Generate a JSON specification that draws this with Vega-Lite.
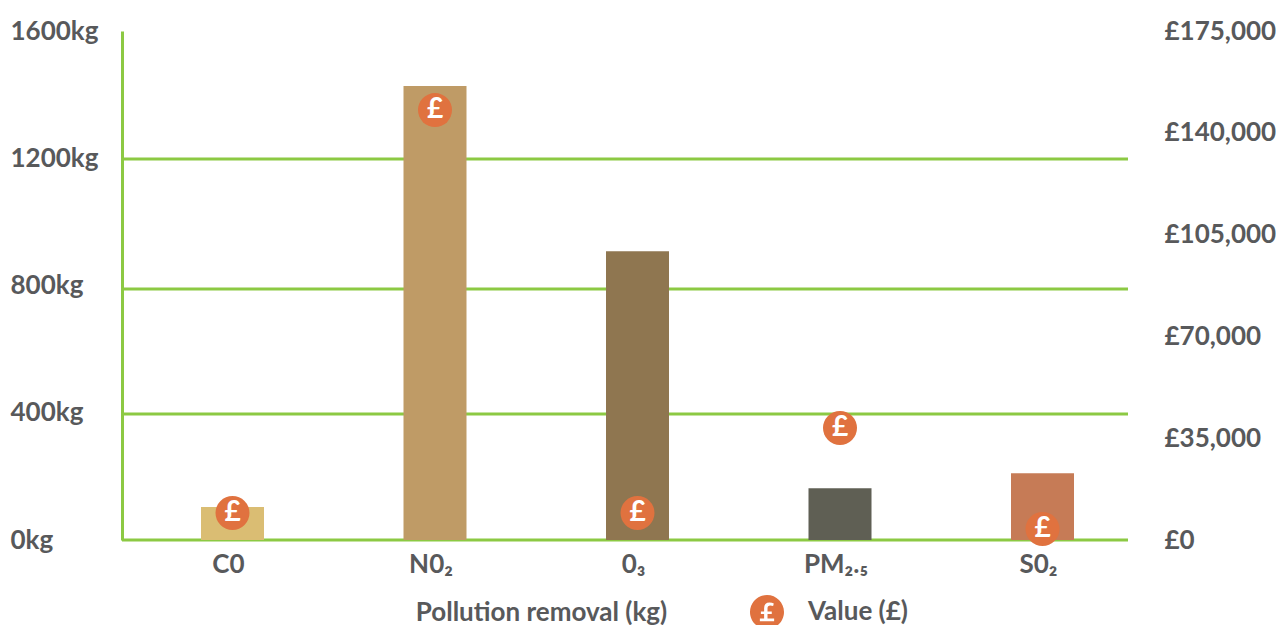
{
"$schema":"https://vega.github.io/schema/vega-lite/v6.json",
"width":1006,"height":509,
"autosize":{"type":"none"},
"padding":{"left":122,"top":31,"right":148,"bottom":85},
"background":"white",
"config":{"view":{"stroke":null},"font":"Lato"},
"datasets":{
"pollution":[
{"pollutant":"C0","kg":104,"value":9300,"color":"#dabd73"},
{"pollutant":"N0₂","kg":1427,"value":147800,"color":"#bf9b66"},
{"pollutant":"0₃","kg":908,"value":9300,"color":"#8f7650"},
{"pollutant":"PM₂.₅","kg":163,"value":38500,"color":"#5f5f54"},
{"pollutant":"S0₂","kg":210,"value":3800,"color":"#c67b56"}],
"gridlines":[{"kg":0},{"kg":396},{"kg":789},{"kg":1198}]
},
"layer":[
{"layer":[
{"data":{"name":"gridlines"},"mark":{"type":"rule","color":"#8cc943","strokeWidth":3},
 "encoding":{"y":{"field":"kg","type":"quantitative","scale":{"domain":[0,1600]}}}},
{"data":{"name":"pollution"},"mark":{"type":"bar","width":63},
 "encoding":{
  "x":{"field":"pollutant","type":"nominal","sort":null,"scale":{"type":"band","range":[9.25,1021.75]},
   "axis":{"title":"Pollution removal (kg)","titleFontSize":26,"titleFontWeight":700,"titleColor":"#58595b","titleX":419,"titleY":72,"titleBaseline":"middle","titleAlign":"center","labelAngle":0,"labelFontSize":26,"labelFontWeight":700,"labelColor":"#58595b","labelPadding":11,"labelOffset":-4,"domain":false,"ticks":false}},
  "y":{"field":"kg","type":"quantitative","scale":{"domain":[0,1600]},
   "axis":{"orient":"left","title":null,"values":[0,400,800,1200,1600],"labelExpr":"datum.value+'kg'","grid":false,"ticks":false,"domainColor":"#8cc943","domainWidth":3,"labelFontSize":26,"labelFontWeight":700,"labelColor":"#58595b","labelAlign":"left","labelPadding":112,"labelBaseline":"middle"}},
  "color":{"field":"color","type":"nominal","scale":null}}}
]},
{"data":{"name":"pollution"},"layer":[
 {"mark":{"type":"point","filled":true,"size":1156,"opacity":1,"shape":"circle"},
  "encoding":{
   "x":{"field":"pollutant","type":"nominal","sort":null,"scale":{"type":"band","range":[9.25,1021.75]}},
   "y":{"field":"value","type":"quantitative","scale":{"domain":[0,175000]},
    "axis":{"orient":"right","title":null,"values":[0,35000,70000,105000,140000,175000],"labelExpr":"'£'+format(datum.value,',')","grid":false,"ticks":false,"domain":false,"labelFontSize":26,"labelFontWeight":700,"labelColor":"#58595b","labelAlign":"left","labelPadding":36,"labelBaseline":"middle"}},
   "fill":{"datum":"Value (£)","scale":{"range":["#e0723f"]},
    "legend":{"orient":"none","legendX":628,"legendY":564,"title":null,"symbolType":"M-1,0A1,1 0 1,1 1,0A1,1 0 1,1 -1,0ZM-.42,.55L.42,.55L.42,.38L.03,.38L.03,.12L.28,.12L.28,-.03L.03,-.03L.03,-.22Q.03,-.38 .2,-.38L.36,-.35L.40,-.5Q.3,-.56 .15,-.56Q-.17,-.56 -.17,-.22L-.17,-.03L-.36,-.03L-.36,.12L-.17,.12L-.17,.38L-.42,.38Z","symbolSize":1156,"symbolStrokeWidth":0,"symbolOpacity":1,"labelFontSize":26,"labelFontWeight":700,"labelColor":"#58595b","labelOffset":24,"padding":0}}}},
 {"mark":{"type":"text","color":"white","fontSize":28,"fontWeight":700,"align":"center","baseline":"middle"},
  "encoding":{
   "x":{"field":"pollutant","type":"nominal","sort":null,"scale":{"type":"band","range":[9.25,1021.75]}},
   "y":{"field":"value","type":"quantitative","scale":{"domain":[0,175000]}},
   "text":{"datum":"£"}}}
 ]}
],
"resolve":{"scale":{"y":"independent"}}
}
